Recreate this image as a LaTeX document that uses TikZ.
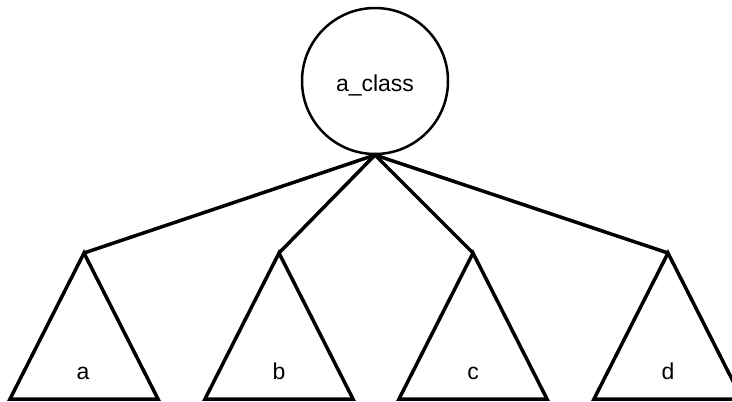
\documentclass[tikz,border=0pt]{standalone}
\usepackage{fontspec}
\setmainfont{Liberation Sans}
\begin{document}
\begin{tikzpicture}[x=1pt,y=-1pt,
  ln/.style={line width=3.5pt, line join=miter},
  tri/.style={ln},
  lbl/.style={font=\fontsize{23}{26}\selectfont, inner sep=0pt, anchor=base}]
\useasboundingbox (0,0) rectangle (732,402);
\begin{scope}
\clip (0,0) rectangle (732,402);
\node[draw, circle, line width=2.5pt, minimum size=146pt, inner sep=0pt] (root) at (375,81) {};
\node[lbl] (rl) at (375,91) {a\_class};
\coordinate (top) at (375,155);
\coordinate (ta) at (84,253);
\coordinate (tb) at (279,253);
\coordinate (tc) at (473,253);
\coordinate (td) at (668,253);
\foreach \n/\x in {a/84,b/279,c/473,d/668}{
  \coordinate (L\n) at (\x-74,399);
  \coordinate (R\n) at (\x+74,399);
}
\draw[tri] (ta) -- (La) -- (Ra) -- cycle;
\draw[tri] (tb) -- (Lb) -- (Rb) -- cycle;
\draw[tri] (tc) -- (Lc) -- (Rc) -- cycle;
\draw[tri] (td) -- (Ld) -- (Rd) -- cycle;
\draw[ln] (ta) -- (top) -- (td);
\draw[ln] (tb) -- (top) -- (tc);
\node[lbl] (na) at (83,379) {a};
\node[lbl] (nb) at (279,379) {b};
\node[lbl] (nc) at (473,379) {c};
\node[lbl] (nd) at (668,379) {d};
\end{scope}
\end{tikzpicture}
\end{document}
